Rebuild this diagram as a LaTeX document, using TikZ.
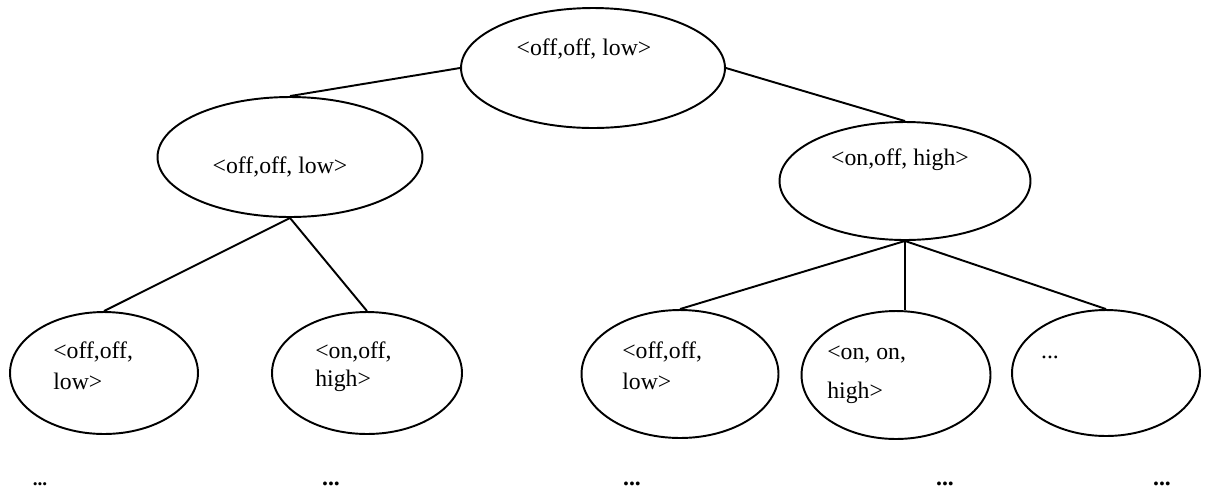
\documentclass[tikz,border=0pt]{standalone}
\usepackage{fontspec}
\setmainfont{Liberation Serif}
\usetikzlibrary{shapes.geometric}
\begin{document}
\begin{tikzpicture}[x=0.02cm,y=-0.02cm,
  state/.style={draw,ellipse,line width=1.1pt,inner sep=0pt},
  lbl/.style={font=\fontsize{13.5}{16}\selectfont,inner sep=0pt},
  more/.style={font=\fontsize{13.5}{16}\selectfont\bfseries,inner sep=0pt},
  link/.style={line width=1.1pt}]
\useasboundingbox (0,0) rectangle (1210,495);
% states
\node[state,minimum width=5.28cm,minimum height=2.4cm] (top) at (593,68) {};
\node[state,minimum width=5.3cm,minimum height=2.4cm] (lm) at (290,157) {};
\node[state,minimum width=5.02cm,minimum height=2.36cm] (rm) at (905,181) {};
\node[state,minimum width=3.76cm,minimum height=2.44cm] (b1) at (104,373) {};
\node[state,minimum width=3.8cm,minimum height=2.44cm] (b2) at (367,373) {};
\node[state,minimum width=3.94cm,minimum height=2.56cm] (b3) at (680,374) {};
\node[state,minimum width=3.78cm,minimum height=2.56cm] (b4) at (896,375) {};
\node[state,minimum width=3.76cm,minimum height=2.52cm] (b5) at (1106,373) {};
% labels
\node[lbl] (ttop) at (584,49) {<off,off, low>};
\node[lbl] (tlm) at (280,167) {<off,off, low>};
\node[lbl] (trm) at (900,160) {<on,off, high>};
\node[lbl,anchor=west] (tb1a) at (53,352) {<off,off,};
\node[lbl,anchor=west] (tb1b) at (53,381) {low>};
\node[lbl,anchor=west] (tb2a) at (315,352) {<on,off,};
\node[lbl,anchor=west] (tb2b) at (315,381) {high>};
\node[lbl,anchor=west] (tb3a) at (622,352) {<off,off,};
\node[lbl,anchor=west] (tb3b) at (622,381) {low>};
\node[lbl,anchor=west] (tb4a) at (827,355) {<on, on,};
\node[lbl,anchor=west] (tb4b) at (827,393) {high>};
\node[lbl] (tb5) at (1050,357) {...};
% continuation marks
\node[more,font=\fontsize{11}{13}\selectfont\bfseries] (d1) at (40,484) {...};
\node[more] (d2) at (331,484) {...};
\node[more] (d3) at (632,484) {...};
\node[more] (d4) at (945,484) {...};
\node[more] (d5) at (1162,484) {...};
% edges
\draw[link] (top.west) -- (lm.north);
\draw[link] (top.east) -- (rm.north);
\draw[link] (lm.south) -- (b1.north);
\draw[link] (lm.south) -- (b2.north);
\draw[link] (rm.south) -- (b3.north);
\draw[link] (rm.south) -- (rm.south |- b4.north);
\draw[link] (rm.south) -- (b5.north);
\end{tikzpicture}
\end{document}
